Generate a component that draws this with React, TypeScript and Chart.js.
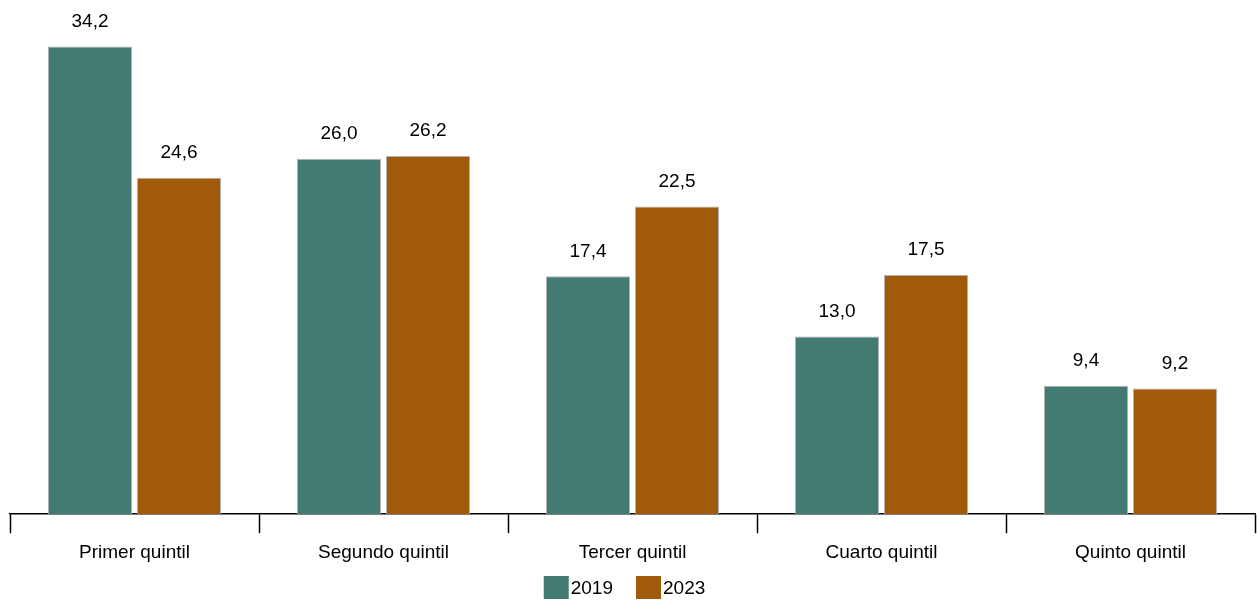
import React, { useEffect, useRef } from "react";
import { Chart, registerables } from "chart.js";

Chart.register(...registerables);

const categories = ["Primer quintil", "Segundo quintil", "Tercer quintil", "Cuarto quintil", "Quinto quintil"];
const seriesNames = ["2019", "2023"];
const values2019 = [34.2, 26.0, 17.4, 13.0, 9.4];
const values2023 = [24.6, 26.2, 22.5, 17.5, 9.2];
const colors = ["#437B72", "#A05A0A"];

const FONT = "'Liberation Sans', Arial, sans-serif";

const fmt = (v: number) => v.toFixed(1).replace(".", ",");

const labelPlugin = {
  id: "valueLabels",
  afterDatasetsDraw(chart: any) {
    const ctx = chart.ctx;
    ctx.save();
    ctx.font = `19px ${FONT}`;
    ctx.fillStyle = "#000";
    ctx.textAlign = "center";
    ctx.textBaseline = "middle";
    chart.data.datasets.forEach((ds: any, i: number) => {
      const meta = chart.getDatasetMeta(i);
      meta.data.forEach((bar: any, j: number) => {
        ctx.fillText(fmt(ds.data[j]), bar.x, bar.y - 25);
      });
    });
    ctx.restore();
  },
};

const legendPlugin = {
  id: "customLegend",
  afterDraw(chart: any) {
    const ctx = chart.ctx;
    ctx.save();
    ctx.font = `19px ${FONT}`;
    ctx.textBaseline = "middle";
    ctx.textAlign = "left";
    const boxW = 25;
    const boxH = 23;
    const gapText = 2;
    const gapItem = 23;
    const widths = seriesNames.map((n) => boxW + gapText + ctx.measureText(n).width);
    const total = widths.reduce((a, b) => a + b, 0) + gapItem * (seriesNames.length - 1);
    let x = chart.width / 2 - 4 - total / 2;
    const yTop = chart.height - 24;
    seriesNames.forEach((n, i) => {
      ctx.fillStyle = colors[i];
      ctx.fillRect(x, yTop, boxW, boxH);
      ctx.fillStyle = "#000";
      ctx.fillText(n, x + boxW + gapText, yTop + boxH / 2 + 1);
      x += widths[i] + gapItem;
    });
    ctx.restore();
  },
};

export default function App() {
  const ref = useRef<HTMLCanvasElement | null>(null);
  useEffect(() => {
    if (!ref.current) return;
    const chart = new Chart(ref.current, {
      type: "bar",
      data: {
        labels: categories,
        datasets: [
          {
            label: seriesNames[0],
            data: values2019,
            backgroundColor: colors[0],
            borderColor: "rgba(170,170,170,0.9)",
            borderWidth: 1,
            categoryPercentage: 0.715,
            barPercentage: 0.944,
          },
          {
            label: seriesNames[1],
            data: values2023,
            backgroundColor: colors[1],
            borderColor: "rgba(170,170,170,0.9)",
            borderWidth: 1,
            categoryPercentage: 0.715,
            barPercentage: 0.944,
          },
        ],
      },
      options: {
        animation: false,
        responsive: true,
        maintainAspectRatio: false,
        layout: { padding: { left: 10, right: 2, top: 22, bottom: 28 } },
        plugins: {
          legend: { display: false },
          tooltip: { enabled: false },
        },
        scales: {
          x: {
            grid: {
              offset: true,
              drawOnChartArea: false,
              drawTicks: true,
              tickLength: 19,
              tickColor: "#000",
              tickWidth: 1.5,
            },
            border: { display: true, color: "#000", width: 1.5 },
            ticks: {
              color: "#000",
              font: { family: FONT, size: 19 },
              padding: 8,
              maxRotation: 0,
            },
          },
          y: {
            display: false,
            min: 0,
            max: 36,
          },
        },
      },
      plugins: [labelPlugin, legendPlugin],
    });
    return () => chart.destroy();
  }, []);
  return (
    <div style={{ position: "absolute", left: 0, top: 0, width: 1257, height: 600 }}>
      <canvas ref={ref} />
    </div>
  );
}
